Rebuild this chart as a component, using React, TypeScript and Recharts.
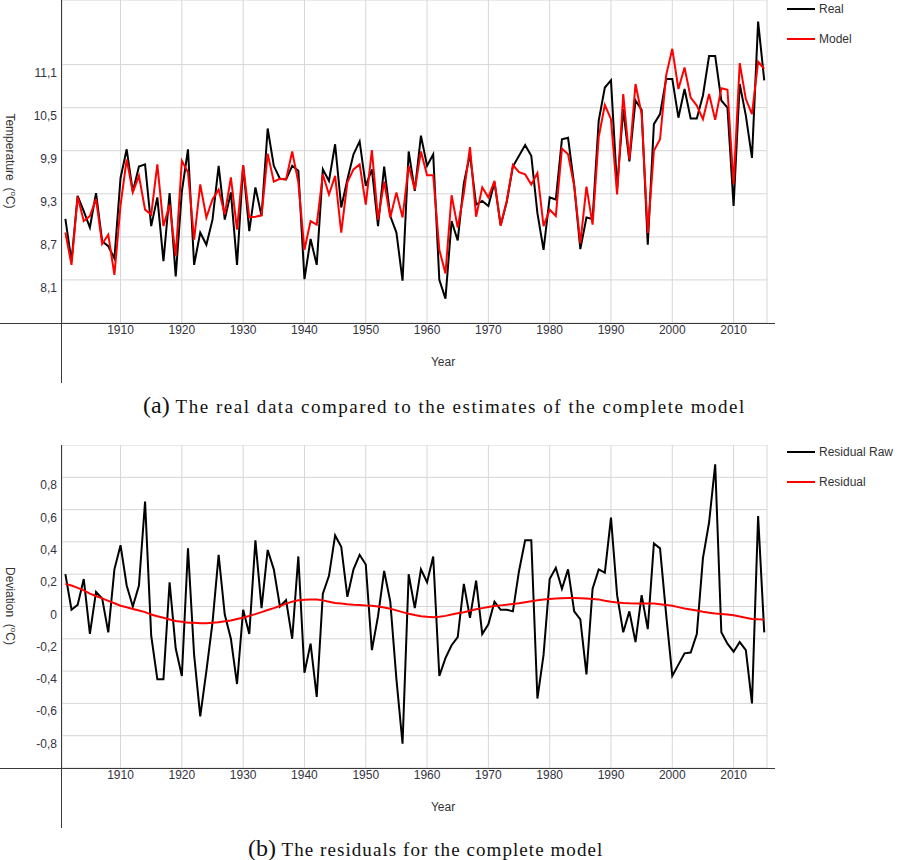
import React from "react";
import { LineChart, Line, XAxis, YAxis, CartesianGrid, Legend } from "recharts";

const FIRST_YEAR = 1901;

// annual mean temperature, 1901..2015
const REAL = [
  8.95, 8.36, 9.27, 9.06, 8.83, 9.31, 8.64, 8.57, 8.4, 9.52,
  9.92, 9.33, 9.68, 9.71, 8.85, 9.25, 8.36, 9.31, 8.15, 9.33,
  9.92, 8.31, 8.76, 8.59, 8.94, 9.69, 8.94, 9.32, 8.31, 9.69,
  8.78, 9.39, 8.99, 10.21, 9.69, 9.51, 9.5, 9.69, 9.62, 8.11,
  8.67, 8.31, 9.64, 9.48, 9.99, 9.11, 9.5, 9.85, 10.03, 9.41,
  9.64, 8.85, 9.68, 8.99, 8.76, 8.09, 9.89, 9.34, 10.11, 9.69,
  9.85, 8.1, 7.84, 8.92, 8.65, 9.45, 9.85, 9.15, 9.2, 9.13,
  9.46, 8.86, 9.19, 9.68, 9.83, 9.98, 9.83, 9.03, 8.52, 9.25,
  9.22, 10.06, 10.08, 9.42, 8.53, 8.97, 8.95, 10.32, 10.78, 10.88,
  9.38, 10.48, 9.75, 10.6, 10.47, 8.59, 10.27, 10.41, 10.9, 10.9,
  10.36, 10.76, 10.35, 10.35, 10.67, 11.22, 11.22, 10.6, 10.5, 9.13,
  10.83, 10.39, 9.8, 11.7, 10.88,
];

const MODEL = [
  8.76, 8.31, 9.26, 8.92, 8.99, 9.23, 8.6, 8.73, 8.17, 9.14,
  9.78, 9.32, 9.55, 9.08, 9.01, 9.71, 8.85, 9.15, 8.43, 9.76,
  9.6, 8.66, 9.43, 8.97, 9.22, 9.36, 9.01, 9.53, 8.8, 9.7,
  8.97, 8.98, 9.0, 9.86, 9.47, 9.51, 9.5, 9.89, 9.46, 8.52,
  8.92, 8.87, 9.57, 9.29, 9.55, 8.76, 9.46, 9.64, 9.71, 9.15,
  9.91, 8.94, 9.47, 8.97, 9.32, 8.97, 9.69, 9.36, 9.89, 9.56,
  9.56, 8.52, 8.19, 9.28, 8.83, 9.31, 9.95, 8.98, 9.39, 9.25,
  9.48, 8.86, 9.2, 9.7, 9.6, 9.57, 9.43, 9.59, 8.85, 9.08,
  8.99, 9.93, 9.85, 9.41, 8.61, 9.4, 8.87, 10.09, 10.54, 10.34,
  9.29, 10.69, 9.78, 10.83, 10.41, 8.75, 9.9, 10.06, 10.95, 11.32,
  10.76, 11.06, 10.64, 10.53, 10.34, 10.69, 10.33, 10.77, 10.75, 9.43,
  11.12, 10.62, 10.41, 11.14, 11.04,
];

const RESIDUAL_RAW = [
  0.2, -0.02, 0.01, 0.17, -0.17, 0.09, 0.05, -0.16, 0.23, 0.38,
  0.13, 0.0, 0.13, 0.65, -0.18, -0.45, -0.45, 0.15, -0.26, -0.43,
  0.36, -0.3, -0.68, -0.4, -0.1, 0.32, -0.05, -0.2, -0.48, -0.02,
  -0.17, 0.41, -0.01, 0.35, 0.23, 0.0, 0.04, -0.2, 0.31, -0.41,
  -0.23, -0.56, 0.08, 0.19, 0.44, 0.37, 0.06, 0.23, 0.32, 0.26,
  -0.27, -0.06, 0.22, 0.03, -0.45, -0.85, 0.2, -0.01, 0.23, 0.15,
  0.31, -0.43, -0.32, -0.24, -0.19, 0.14, -0.07, 0.16, -0.17, -0.11,
  0.03, -0.02, -0.02, -0.03, 0.22, 0.41, 0.41, -0.57, -0.3, 0.17,
  0.24, 0.11, 0.23, -0.03, -0.08, -0.42, 0.11, 0.23, 0.21, 0.55,
  0.07, -0.16, -0.03, -0.22, 0.07, -0.14, 0.39, 0.36, -0.05, -0.43,
  -0.36, -0.29, -0.285, -0.17, 0.3, 0.52, 0.88, -0.16, -0.23, -0.28,
  -0.22, -0.27, -0.6, 0.56, -0.16,
];

const RESIDUAL = [
  0.14, 0.13, 0.115, 0.1, 0.08, 0.065, 0.05, 0.035, 0.02, 0.005,
  -0.005, -0.015, -0.025, -0.035, -0.05, -0.06, -0.07, -0.08, -0.09, -0.095,
  -0.1, -0.1, -0.103, -0.103, -0.1, -0.098, -0.092, -0.087, -0.078, -0.07,
  -0.058, -0.047, -0.035, -0.022, -0.01, 0.003, 0.018, 0.03, 0.038, 0.042,
  0.044, 0.043, 0.038, 0.03, 0.022, 0.018, 0.014, 0.011, 0.009, 0.006,
  0.004, 0.0, -0.006, -0.014, -0.024, -0.035, -0.045, -0.053, -0.06, -0.064,
  -0.066, -0.064, -0.058, -0.05, -0.042, -0.035, -0.026, -0.017, -0.01, -0.003,
  0.003, 0.007, 0.011, 0.016, 0.02, 0.026, 0.032, 0.038, 0.043, 0.047,
  0.049, 0.051, 0.052, 0.052, 0.051, 0.05, 0.047, 0.044, 0.036, 0.03,
  0.025, 0.022, 0.02, 0.019, 0.019, 0.019, 0.018, 0.014, 0.01, 0.004,
  -0.004, -0.012, -0.018, -0.025, -0.032, -0.038, -0.043, -0.046, -0.049, -0.054,
  -0.062, -0.07, -0.077, -0.079, -0.08,
];

const YEAR_TICKS = [1910, 1920, 1930, 1940, 1950, 1960, 1970, 1980, 1990, 2000, 2010];
const TEMP_TICKS = [8.1, 8.7, 9.3, 9.9, 10.5, 11.1];
const DEV_TICKS = [-0.8, -0.6, -0.4, -0.2, 0, 0.2, 0.4, 0.6, 0.8];

const tempData = REAL.map((real, i) => ({ year: FIRST_YEAR + i, real, model: MODEL[i] }));
const devData = RESIDUAL_RAW.map((raw, i) => ({ year: FIRST_YEAR + i, raw, residual: RESIDUAL[i] }));

const FONT = '"Liberation Sans", Arial, sans-serif';
const SERIF = '"Liberation Serif", "Times New Roman", serif';
const TICK_COLOR = "#333340";
const AXIS_COLOR = "#3a3a3a";
const GRID_COLOR = "#d6d6d6";

const fmt = (v: number) => (v === 0 ? "0" : v.toFixed(1).replace(".", ","));

function YTick(props: any) {
  const { x, y, payload } = props;
  return (
    <text x={x} y={y + 8} textAnchor="end" dominantBaseline="central" fontSize={12} fontFamily={FONT} fill={TICK_COLOR}>
      {fmt(payload.value)}
    </text>
  );
}

function XTick(props: any) {
  const { x, y, payload } = props;
  return (
    <text x={x} y={y + 11} textAnchor="middle" fontSize={12} fontFamily={FONT} fill={TICK_COLOR}>
      {payload.value}
    </text>
  );
}

// legend keeps the series order (recharts 3 sorts by name otherwise)
function LegendBox(props: any) {
  const { payload, order } = props;
  const items = [...(payload || [])].sort(
    (a: any, b: any) => order.indexOf(a.dataKey) - order.indexOf(b.dataKey)
  );
  return (
    <div style={{ fontFamily: FONT, fontSize: 12, color: "#333" }}>
      {items.map((p: any) => (
        <div key={p.value} style={{ display: "flex", alignItems: "center", height: 30 }}>
          <span style={{ display: "inline-block", width: 28, height: 2, background: p.color }} />
          <span style={{ marginLeft: 4 }}>{p.value}</span>
        </div>
      ))}
    </div>
  );
}

const abs = (s: React.CSSProperties): React.CSSProperties => ({ position: "absolute", ...s });

function Panel(props: {
  top: number;
  data: any[];
  domain: [number, number];
  ticks: number[];
  series: { key: string; name: string; color: string }[];
  yTitle: string;
  legendTop: number;
}) {
  const { top, data, domain, ticks, series, yTitle, legendTop } = props;
  const order = series.map((s) => s.key);
  return (
    <div style={abs({ left: 0, top, width: 900, height: 390 })}>
      <LineChart width={900} height={390} data={data} margin={{ top: 0, right: 133, bottom: 0, left: 0 }}>
        <CartesianGrid stroke={GRID_COLOR} />
        <XAxis
          dataKey="year"
          type="number"
          domain={[1900.45, 2015.45]}
          ticks={YEAR_TICKS}
          height={67}
          tickLine={false}
          axisLine={false}
          tickSize={0}
          tickMargin={0}
          tick={<XTick />}
        />
        <YAxis
          type="number"
          domain={domain}
          ticks={ticks}
          width={62}
          tickLine={false}
          axisLine={false}
          tickSize={0}
          tickMargin={5}
          tick={<YTick />}
        />
        <Legend
          content={<LegendBox order={order} />}
          layout="vertical"
          align="center"
          verticalAlign="middle"
          wrapperStyle={{ left: 787, top: legendTop, width: 110 }}
        />
        {series.map((s) => (
          <Line
            key={s.key}
            dataKey={s.key}
            name={s.name}
            type="linear"
            stroke={s.color}
            strokeWidth={2}
            dot={false}
            isAnimationActive={false}
          />
        ))}
      </LineChart>
      {/* axis lines run past the plot as in the original */}
      <div style={abs({ left: 0, top: 323, width: 775, height: 1, background: AXIS_COLOR })} />
      <div style={abs({ left: 61, top: 0, width: 1, height: 383, background: AXIS_COLOR })} />
      <div
        style={abs({
          left: 10,
          top: 161,
          transform: "translate(-50%, -50%) rotate(90deg)",
          whiteSpace: "nowrap",
          fontFamily: FONT,
          fontSize: 12,
          color: "#333",
        })}
      >
        {yTitle}&nbsp;&nbsp;(<sup style={{ fontSize: 8 }}>o</sup>C)
      </div>
      <div style={abs({ left: 443, top: 362, transform: "translate(-50%, -50%)", fontFamily: FONT, fontSize: 12, color: "#333" })}>
        Year
      </div>
    </div>
  );
}

function Caption(props: { left: number; top: number; tag: string; text: string; spacing: number }) {
  return (
    <div style={abs({ left: props.left, top: props.top, whiteSpace: "nowrap", fontFamily: SERIF, color: "#111", lineHeight: "26px" })}>
      <span style={{ fontSize: 24 }}>({props.tag})</span>
      <span style={{ fontSize: 19, letterSpacing: props.spacing }}> {props.text}</span>
    </div>
  );
}

export default function App() {
  return (
    <div style={abs({ left: 0, top: 0, width: 900, height: 860, background: "#fff", overflow: "hidden" })}>
      <Panel
        top={0}
        data={tempData}
        domain={[7.5, 12.0]}
        ticks={TEMP_TICKS}
        series={[
          { key: "real", name: "Real", color: "#000000" },
          { key: "model", name: "Model", color: "#ff0000" },
        ]}
        yTitle="Temperature"
        legendTop={-6}
      />
      <Caption left={143} top={392} tag="a" spacing={1.53} text="The real data compared to the estimates of the complete model" />
      <Panel
        top={445}
        data={devData}
        domain={[-1, 1]}
        ticks={DEV_TICKS}
        series={[
          { key: "raw", name: "Residual Raw", color: "#000000" },
          { key: "residual", name: "Residual", color: "#ff0000" },
        ]}
        yTitle="Deviation"
        legendTop={-8}
      />
      <Caption left={248} top={835} tag="b" spacing={1.07} text="The residuals for the complete model" />
    </div>
  );
}
